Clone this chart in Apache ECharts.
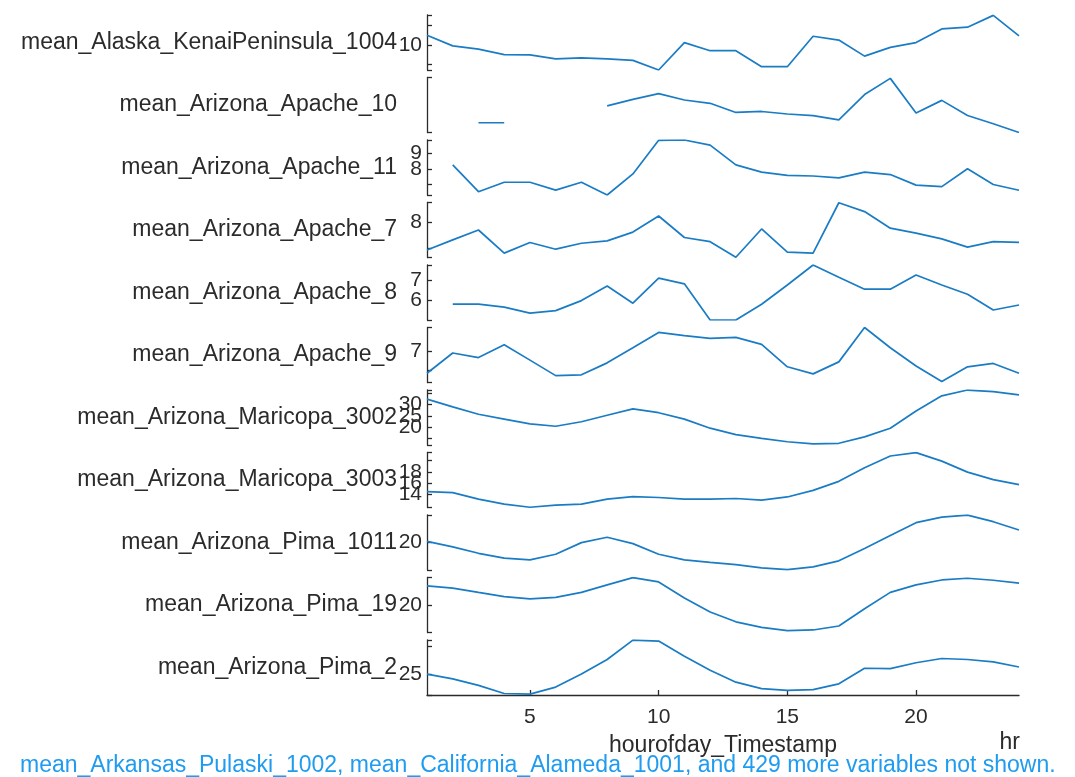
<!DOCTYPE html>
<html>
<head>
<meta charset="utf-8">
<script src="https://cdn.jsdelivr.net/npm/echarts@6/dist/echarts.min.js"></script>
<style>
html,body{margin:0;padding:0;background:#fff;}
#chart{width:1075px;height:777px;}
</style>
</head>
<body>
<div id="chart"></div>
<script>
// ---------- DATA ----------
const hours = [1,2,3,4,5,6,7,8,9,10,11,12,13,14,15,16,17,18,19,20,21,22,23,24];
const xTicks = [5,10,15,20];
const xLabel = 'hourofday_Timestamp';
const xUnit = 'hr';
const footnote = 'mean_Arkansas_Pulaski_1002, mean_California_Alameda_1001, and 429 more variables not shown.';

const varNames = [
  'mean_Alaska_KenaiPeninsula_1004',
  'mean_Arizona_Apache_10',
  'mean_Arizona_Apache_11',
  'mean_Arizona_Apache_7',
  'mean_Arizona_Apache_8',
  'mean_Arizona_Apache_9',
  'mean_Arizona_Maricopa_3002',
  'mean_Arizona_Maricopa_3003',
  'mean_Arizona_Pima_1011',
  'mean_Arizona_Pima_19',
  'mean_Arizona_Pima_2'
];

const alaska1004 = [10.5, 9.95, 9.78, 9.5, 9.48, 9.28, 9.33, 9.28, 9.2, 8.7, 10.12, 9.7, 9.7, 8.87, 8.87, 10.45, 10.25, 9.42, 9.87, 10.12, 10.83, 10.92, 11.53, 10.47];
const apache10 = [null, null, 5.05, 5.05, null, null, null, 5.92, 6.25, 6.55, 6.22, 6.05, 5.58, 5.63, 5.5, 5.42, 5.2, 6.5, 7.33, 5.55, 6.2, 5.42, 5.0, 4.55];
const apache11 = [null, 8.25, 6.54, 7.14, 7.14, 6.64, 7.14, 6.33, 7.67, 9.81, 9.83, 9.5, 8.25, 7.79, 7.58, 7.54, 7.42, 7.79, 7.63, 6.96, 6.86, 8.0, 7.0, 6.63];
const apache7 = [6.93, 7.32, 7.70, 6.81, 7.22, 6.96, 7.19, 7.28, 7.62, 8.24, 7.41, 7.25, 6.65, 7.74, 6.85, 6.81, 8.75, 8.41, 7.77, 7.58, 7.36, 7.04, 7.25, 7.22];
const apache8 = [null, 5.82, 5.82, 5.67, 5.37, 5.5, 6.0, 6.73, 5.87, 7.12, 6.84, 5.03, 5.03, 5.82, 6.78, 7.78, 7.17, 6.57, 6.57, 7.28, 6.78, 6.32, 5.53, 5.78];
const apache9 = [5.87, 6.9, 6.67, 7.32, 6.54, 5.75, 5.79, 6.4, 7.17, 7.95, 7.79, 7.65, 7.70, 7.34, 6.2, 5.84, 6.45, 8.2, 7.17, 6.24, 5.45, 6.2, 6.37, 5.87];
const maricopa3002 = [32.4, 28.97, 25.71, 23.57, 21.43, 20.4, 22.41, 25.29, 28.11, 26.4, 23.57, 19.54, 16.71, 15.0, 13.54, 12.56, 12.86, 15.69, 19.54, 27.13, 33.86, 36.43, 35.7, 34.29];
const maricopa3003 = [14.47, 14.3, 13.13, 12.26, 11.69, 12.09, 12.26, 13.13, 13.6, 13.43, 13.13, 13.13, 13.25, 12.96, 13.53, 14.7, 16.31, 18.75, 20.83, 21.43, 19.91, 17.95, 16.61, 15.74];
const pima1011 = [20.22, 19.27, 18.17, 17.33, 17.05, 18.0, 20.0, 20.93, 19.83, 18.0, 17.05, 16.6, 16.22, 15.67, 15.38, 15.83, 16.88, 18.98, 21.22, 23.43, 24.38, 24.72, 23.6, 22.17];
const pima19 = [23.33, 22.95, 22.22, 21.5, 21.12, 21.38, 22.22, 23.5, 24.72, 24.0, 21.28, 18.88, 17.22, 16.28, 15.72, 15.83, 16.5, 19.45, 22.22, 23.5, 24.33, 24.62, 24.28, 23.78];
const pima2 = [25.0, 24.12, 22.94, 21.47, 21.35, 22.64, 25.0, 27.65, 31.17, 31.0, 28.23, 25.71, 23.53, 22.35, 22.05, 22.17, 23.23, 26.06, 26.0, 27.06, 27.84, 27.65, 27.23, 26.29];

const allSeries = [alaska1004, apache10, apache11, apache7, apache8, apache9, maricopa3002, maricopa3003, pima1011, pima19, pima2];

// y-axis limits per panel
const yMin = [8.7, 4.55, 6.33, 6.64, 5.03, 5.4, 12.1, 11.65, 15.3, 15.4, 21.2];
const yMax = [11.55, 7.375, 9.83, 8.76, 7.78, 8.2, 36.45, 21.45, 24.75, 24.75, 31.2];
// y tick values and labelled ticks per panel
const yTicks = [[9,10,11], [], [7,8,9], [7,8], [6,7], [6,7], [15,20,25,30,35], [14,16,18,20], [20], [20], [25,30]];
const yTickLabels = [[10], [], [8,9], [8], [6,7], [7], [20,25,30], [14,16,18], [20], [20], [25]];

// ---------- CHART ----------
const FONT = '"Liberation Sans", Arial, Helvetica, sans-serif';
const TXT = '#2b2b2b';
const LINE = '#1a7cc4';
const n = varNames.length;
const gridLeft = 427, gridWidth = 592, gridTop0 = 15, gridStep = 62.5, gridH = 55;

const grids = [], xAxes = [], yAxes = [], labelAxes = [], series = [];
for (let i = 0; i < n; i++) {
  const last = i === n - 1;
  grids.push({left: gridLeft, width: gridWidth, top: gridTop0 + i * gridStep, height: gridH});
  xAxes.push({
    type: 'value', gridIndex: i, min: 1, max: 24,
    show: last,
    axisLine: {show: last, onZero: false, lineStyle: {color: TXT, width: 1.3}},
    axisTick: {show: last, inside: true, length: 5, customValues: xTicks, lineStyle: {color: TXT, width: 1.3}},
    axisLabel: {show: last, customValues: xTicks, hideOverlap: false, color: TXT, fontSize: 21, fontFamily: FONT, margin: 12},
    splitLine: {show: false},
    name: last ? xLabel : '',
    nameLocation: 'middle', nameGap: 39, nameMoveOverlap: false,
    nameTextStyle: {color: TXT, fontSize: 23, fontFamily: FONT}
  });
  // main axis: line, ticks, variable name (labels drawn by label-only axes below)
  yAxes.push({
    type: 'value', gridIndex: i, position: 'left', offset: 0, min: yMin[i], max: yMax[i],
    axisLine: {show: true, onZero: false, lineStyle: {color: TXT, width: 1.3}},
    axisTick: {show: true, inside: true, length: 5, customValues: [yMin[i]].concat(yTicks[i], [yMax[i]]), lineStyle: {color: TXT, width: 1.3}},
    axisLabel: {show: false},
    splitLine: {show: false},
    name: varNames[i],
    nameLocation: 'middle', nameRotate: 0, nameGap: 30, nameMoveOverlap: false,
    nameTextStyle: {color: TXT, fontSize: 23, fontFamily: FONT, align: 'right', verticalAlign: 'middle'}
  });
  // one label-only axis per tick label, so overlapping labels are all kept
  yTickLabels[i].forEach(v => {
    labelAxes.push({
      type: 'value', gridIndex: i, position: 'left', offset: 0, min: yMin[i], max: yMax[i],
      axisLine: {show: false, onZero: false}, axisTick: {show: false}, splitLine: {show: false},
      axisLabel: {show: true, customValues: [v], hideOverlap: false, color: TXT, fontSize: 21, fontFamily: FONT, margin: 5}
    });
  });
  series.push({
    type: 'line', xAxisIndex: i, yAxisIndex: i,
    data: hours.map((h, k) => [h, allSeries[i][k]]),
    showSymbol: false, symbol: 'none', connectNulls: false,
    lineStyle: {color: LINE, width: 1.7},
    animation: false
  });
}

const chart = echarts.init(document.getElementById('chart'), null, {renderer: 'canvas'});
chart.setOption({
  animation: false,
  backgroundColor: '#ffffff',
  title: [
    {text: xUnit, right: 55, top: 731, padding: 0, textStyle: {color: TXT, fontSize: 23, fontWeight: 'normal', fontFamily: FONT}},
    {text: footnote, left: 20, top: 754, padding: 0, textStyle: {color: '#1f9bf0', fontSize: 23, fontWeight: 'normal', fontFamily: FONT}}
  ],
  grid: grids,
  xAxis: xAxes,
  yAxis: yAxes.concat(labelAxes),
  series: series
});
</script>
</body>
</html>
